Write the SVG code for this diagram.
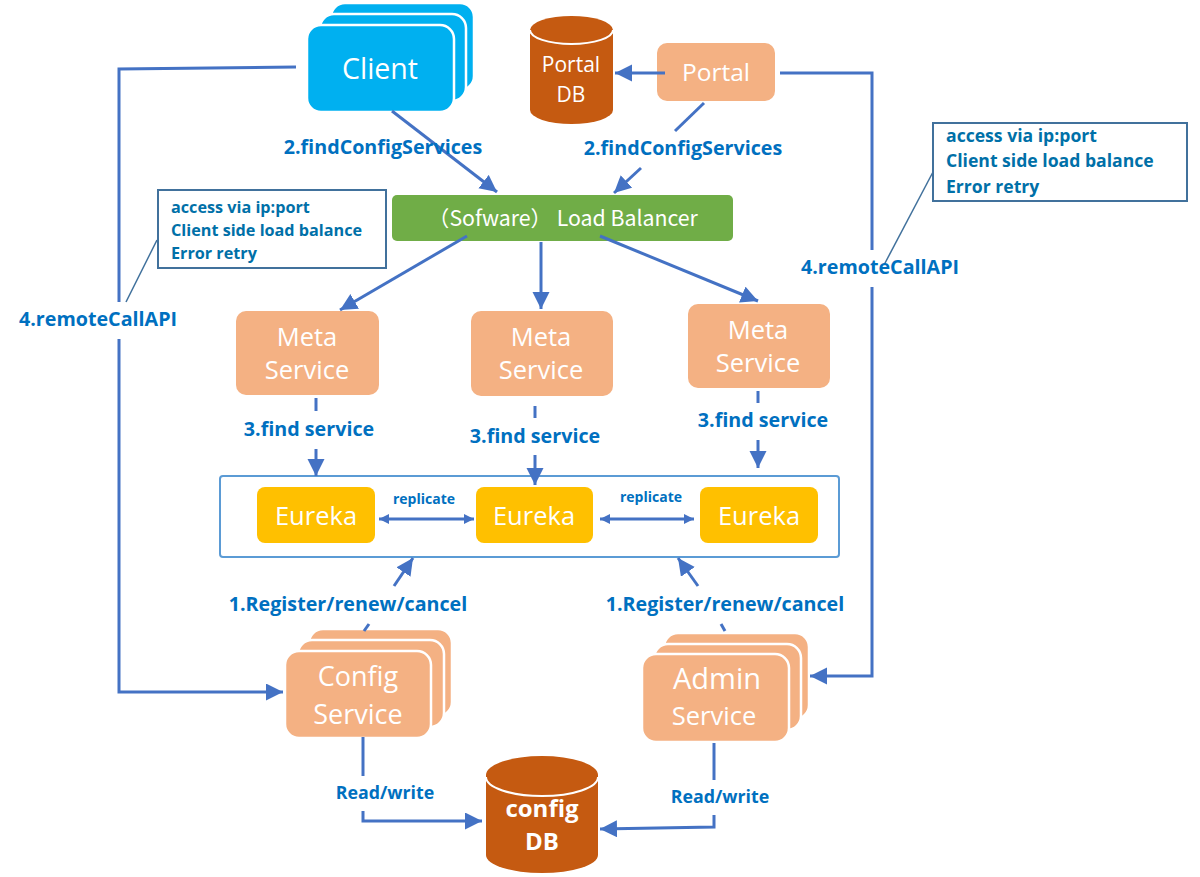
<svg xmlns="http://www.w3.org/2000/svg" width="1200" height="877" viewBox="0 0 1200 877">
<style>
text{font-family:"Open Sans","Noto Sans","Liberation Sans",sans-serif;text-anchor:middle}
.n{fill:#fff;font-size:25.500px}
.s{fill:#fff;font-size:27px}
.l{fill:#0070c0;font-weight:700;font-size:19.700px}
.t{fill:#0070a8;font-weight:700;font-size:16.200px;text-anchor:start}
.c{fill:none;stroke:#4472c4;stroke-width:3}
.a{marker-end:url(#ah)}
.d{stroke:#41719c;stroke-width:1.500;fill:none}
.bl{fill:#00b0f0;stroke:#fff;stroke-width:2.500}
.or{fill:#f4b183;stroke:#fff;stroke-width:2.500}
.ye{fill:#ffc000}
.db{fill:#c55a11}
.box{fill:#fff;stroke:#41719c;stroke-width:2}
</style>
<defs>
<marker id="ah" markerUnits="userSpaceOnUse" markerWidth="19" markerHeight="18" refX="17" refY="8.500" orient="auto"><path d="M0 0L17 8.500L0 17Z" fill="#4472c4"/></marker>
<marker id="sm" markerUnits="userSpaceOnUse" markerWidth="12" markerHeight="12" refX="10" refY="5" orient="auto-start-reverse"><path d="M0 0L10 5L0 10Z" fill="#4472c4"/></marker>
</defs>
<rect width="1200" height="877" fill="#fff"/>

<g id="eureka-group"><rect x="220" y="476" width="619" height="81" rx="3" fill="#fff" stroke="#5b9bd5" stroke-width="2"/></g>

<g id="client">
<rect class="bl" x="331" y="3" width="143" height="87" rx="14"/>
<rect class="bl" x="320" y="14" width="146" height="87" rx="14"/>
<rect class="bl" x="307" y="25" width="147" height="87" rx="14"/>
<text class="s" style="font-size:28.500px" x="380" y="79">Client</text>
</g>

<g id="portal-db">
<path class="db" d="M530 30A41.500 14 0 0 1 613 30V110A41.500 14 0 0 1 530 110Z"/>
<path d="M530 30A41.500 14 0 0 0 613 30" fill="none" stroke="#fff" stroke-width="2"/>
<text class="n" style="font-size:21px" x="571" y="72">Portal</text>
<text class="n" style="font-size:21px" x="571" y="102">DB</text>
</g>

<g id="portal">
<rect x="657" y="43" width="118" height="58" rx="10" fill="#f4b183"/>
<text class="n" style="font-size:24.500px" x="716" y="81">Portal</text>
</g>

<g id="load-balancer">
<rect x="392" y="195" width="341" height="46" rx="5" fill="#70ad47"/>
<text class="n" style="font-size:21.300px;font-family:'Noto Sans CJK SC','Open Sans',sans-serif" x="563" y="226">（Sofware） Load Balancer</text>
</g>

<g id="meta-1"><rect x="236" y="311" width="143" height="84" rx="10" fill="#f4b183"/>
<text class="n" x="307" y="346">Meta</text><text class="n" x="307" y="379">Service</text></g>
<g id="meta-2"><rect x="471" y="311" width="142" height="85" rx="10" fill="#f4b183"/>
<text class="n" x="541" y="346">Meta</text><text class="n" x="541" y="379">Service</text></g>
<g id="meta-3"><rect x="688" y="304" width="142" height="84" rx="10" fill="#f4b183"/>
<text class="n" x="758" y="339">Meta</text><text class="n" x="758" y="372">Service</text></g>

<g id="eureka-1"><rect class="ye" x="257" y="487" width="118" height="56" rx="8"/><text class="n" x="316" y="525">Eureka</text></g>
<g id="eureka-2"><rect class="ye" x="476" y="487" width="117" height="56" rx="8"/><text class="n" x="534" y="525">Eureka</text></g>
<g id="eureka-3"><rect class="ye" x="700" y="487" width="118" height="56" rx="8"/><text class="n" x="759" y="525">Eureka</text></g>

<g id="config-service">
<rect class="or" x="309" y="629" width="143" height="87" rx="14"/>
<rect class="or" x="298" y="640" width="146" height="87" rx="14"/>
<rect class="or" x="285" y="651" width="146" height="87" rx="14"/>
<text class="s" x="358" y="686">Config</text>
<text class="s" x="358" y="724">Service</text>
</g>

<g id="admin-service">
<rect class="or" x="664" y="633" width="145" height="86" rx="14"/>
<rect class="or" x="654" y="644" width="147" height="86" rx="14"/>
<rect class="or" x="642" y="654" width="147" height="88" rx="14"/>
<text class="s" style="font-size:29px" x="717" y="689">Admin</text>
<text class="n" x="714" y="725">Service</text>
</g>

<g id="config-db">
<path class="db" d="M486 775A56 19 0 0 1 598 775V855A56 18 0 0 1 486 855Z"/>
<path d="M486 777A56 19 0 0 0 598 777" fill="none" stroke="#fff" stroke-width="2"/>
<text class="n" style="font-weight:700;font-size:24px" x="542" y="817">config</text>
<text class="n" style="font-weight:700;font-size:24px" x="542" y="850">DB</text>
</g>

<g id="connectors">
<path class="c a" d="M392 111L497 192"/>
<path class="c" d="M704 103L675 131"/>
<path class="c a" d="M641 168L614 193"/>
<path class="c a" d="M665 73H615"/>
<path class="c a" d="M467 236L340 310"/>
<path class="c a" d="M541 242V309"/>
<path class="c a" d="M600 236L758 301"/>
<path class="c" d="M316 398V411"/>
<path class="c a" d="M316 449V476"/>
<path class="c" d="M535 406V418"/>
<path class="c a" d="M535 455V485"/>
<path class="c" d="M758 391V403"/>
<path class="c a" d="M758 440V468"/>
<path class="c" style="marker-start:url(#sm);marker-end:url(#sm)" d="M379 519H474"/>
<path class="c" style="marker-start:url(#sm);marker-end:url(#sm)" d="M600 519H694"/>
<path class="c a" d="M394 586L413 558"/>
<path class="c" d="M364 631L369 624"/>
<path class="c a" d="M698 586L678 558"/>
<path class="c" d="M725 631L721 624"/>
<path class="c" d="M363 737V776"/>
<path class="c a" d="M363 811V821H482"/>
<path class="c" d="M714 743V780"/>
<path class="c a" d="M714 815V827L600 829"/>
<path class="c" d="M296 67L119 69V302"/>
<path class="c a" d="M119 339V692H283"/>
<path class="c" d="M780 73H872V250"/>
<path class="c a" d="M872 287V676H810"/>
<path class="d" d="M157 240L126 302"/>
<path class="d" d="M933 172L884 265"/>
</g>

<g id="labels">
<text class="l" x="383" y="154">2.findConfigServices</text>
<text class="l" x="683" y="155">2.findConfigServices</text>
<text class="l" x="98" y="326">4.remoteCallAPI</text>
<text class="l" x="880" y="274">4.remoteCallAPI</text>
<text class="l" x="309" y="436">3.find service</text>
<text class="l" x="535" y="443">3.find service</text>
<text class="l" x="763" y="427">3.find service</text>
<text class="l" style="font-size:14px" x="424" y="504">replicate</text>
<text class="l" style="font-size:14px" x="651" y="502">replicate</text>
<text class="l" x="348" y="611">1.Register/renew/cancel</text>
<text class="l" x="725" y="611">1.Register/renew/cancel</text>
<text class="l" style="font-size:17.800px" x="385" y="799">Read/write</text>
<text class="l" style="font-size:17.800px" x="720" y="803">Read/write</text>
</g>

<g id="note-left">
<rect class="box" x="158" y="190" width="228" height="78"/>
<text class="t" x="171" y="213">access via ip:port</text>
<text class="t" x="171" y="236">Client side load balance</text>
<text class="t" x="171" y="259">Error retry</text>
</g>
<g id="note-right">
<rect class="box" x="933" y="123" width="254" height="78"/>
<text class="t" style="font-size:17.600px" x="946" y="142">access via ip:port</text>
<text class="t" style="font-size:17.600px" x="946" y="167">Client side load balance</text>
<text class="t" style="font-size:17.600px" x="946" y="193">Error retry</text>
</g>
</svg>
